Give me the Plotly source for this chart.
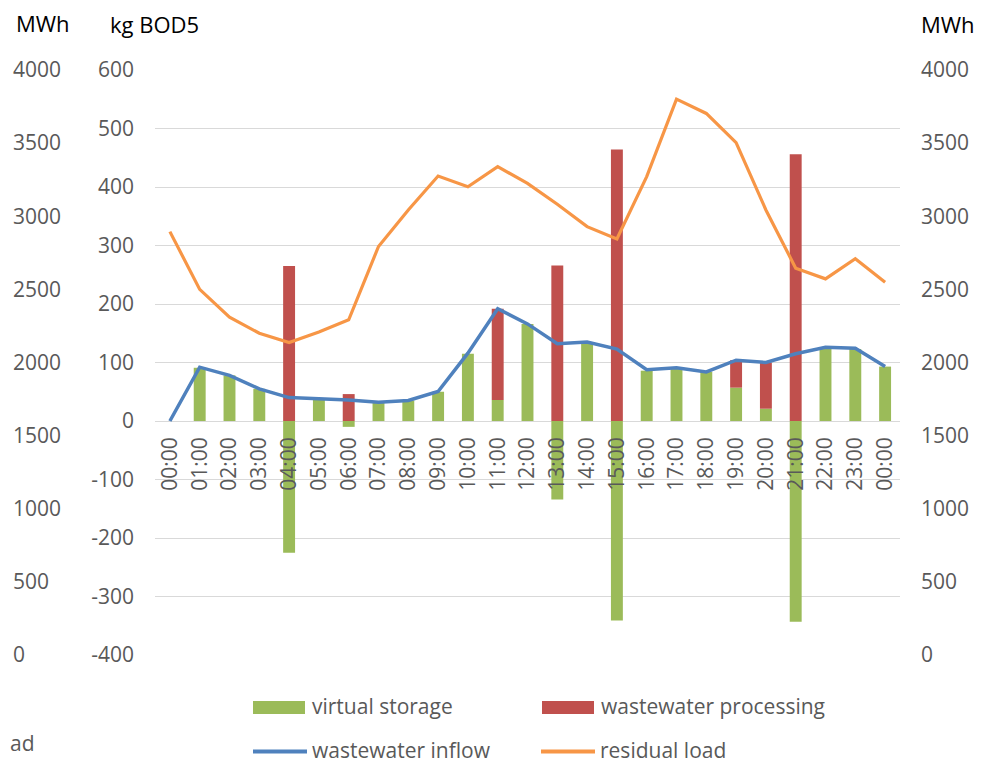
import plotly.graph_objects as go

hours = ["00:00", "01:00", "02:00", "03:00", "04:00", "05:00", "06:00", "07:00",
         "08:00", "09:00", "10:00", "11:00", "12:00", "13:00", "14:00", "15:00",
         "16:00", "17:00", "18:00", "19:00", "20:00", "21:00", "22:00", "23:00", "00:00"]
virtual_storage = [0, 91, 78, 55, -225, 36, -10, 32, 35, 50, 115, 36, 166, -134,
                   135, -341, 86, 89, 84, 57, 21, -343, 125, 123, 93]
wastewater_processing = [0, 0, 0, 0, 265, 0, 46, 0, 0, 0, 0, 156, 0, 266,
                         0, 464, 0, 0, 0, 47, 79, 456, 0, 0, 0]
wastewater_inflow = [0, 92, 78, 55, 40, 37.5, 36, 32, 35, 50.5, 116, 192, 166, 132,
                     135, 123, 87.5, 91, 84, 104, 100, 115, 126, 124.5, 93]
residual_load = [2895, 2500, 2310, 2200, 2137, 2208, 2292, 2793, 3043, 3275, 3202,
                 3339, 3225, 3082, 2929, 2845, 3271, 3801, 3703, 3503, 3043, 2645,
                 2572, 2710, 2549]
kg_ticks = [-400, -300, -200, -100, 0, 100, 200, 300, 400, 500, 600]
kg_labels = ["-400", "-300", "-200", "-100", "0", "100", "200", "300", "400", "500", "600"]
mwh_ticks = [0, 500, 1000, 1500, 2000, 2500, 3000, 3500, 4000]
mwh_labels = ["0", "500", "1000", "1500", "2000", "2500", "3000", "3500", "4000"]

series_names = ["virtual storage", "wastewater processing", "wastewater inflow", "residual load"]
series_colors = ["#9BBB59", "#C0504D", "#4F81BD", "#F79646"]

x_idx = list(range(len(hours)))
FONT = "Open Sans"
TICK_COLOR = "#595959"
GRID = "#d9d9d9"

fig = go.Figure()
fig.add_trace(go.Bar(x=x_idx, y=virtual_storage, name=series_names[0],
                     marker=dict(color=series_colors[0], line=dict(width=0)),
                     showlegend=False))
fig.add_trace(go.Bar(x=x_idx, y=wastewater_processing, name=series_names[1],
                     marker=dict(color=series_colors[1], line=dict(width=0)),
                     showlegend=False))
fig.add_trace(go.Scatter(x=x_idx, y=wastewater_inflow, name=series_names[2],
                         mode="lines", line=dict(color=series_colors[2], width=3.5),
                         showlegend=False))
fig.add_trace(go.Scatter(x=x_idx, y=residual_load, name=series_names[3],
                         mode="lines", line=dict(color=series_colors[3], width=3.2),
                         yaxis="y2", showlegend=False))
# invisible trace so that the far-left MWh axis is drawn
fig.add_trace(go.Scatter(x=x_idx, y=residual_load, mode="lines", yaxis="y3",
                         line=dict(width=0, color="rgba(0,0,0,0)"),
                         showlegend=False, hoverinfo="skip"))

W, H = 992, 763
OFF = 8  # page offset of the figure (body margin)
T = 62
PH = 585.5
B = H - T - PH


def px_x(p):
    return (p - OFF) / W


def px_y(p):
    return (T + PH - (p - OFF)) / PH


tickfont = dict(family=FONT, size=21, color=TICK_COLOR)

fig.update_layout(
    width=W, height=H,
    margin=dict(l=0, r=0, t=T, b=B, autoexpand=False),
    plot_bgcolor="white", paper_bgcolor="white",
    font=dict(family=FONT, size=21, color=TICK_COLOR),
    barmode="relative", bargap=0.6,
    showlegend=False,
    xaxis=dict(
        domain=[px_x(155), px_x(900)],
        range=[-0.5, 24.5],
        tickmode="array", tickvals=x_idx, ticktext=hours,
        tickangle=-90, anchor="free", position=0.4,
        showgrid=False, zeroline=False, showline=False, ticks="",
        ticklabelstandoff=11, tickfont=tickfont,
    ),
    yaxis=dict(
        range=[-400, 600], tickmode="array", tickvals=kg_ticks, ticktext=kg_labels,
        showgrid=True, gridcolor=GRID, gridwidth=1.3,
        zeroline=True, zerolinecolor=GRID, zerolinewidth=1.3,
        showline=False, ticks="", ticklabelstandoff=20, tickfont=tickfont,
    ),
    yaxis2=dict(
        range=[0, 4000], tickmode="array", tickvals=mwh_ticks, ticktext=mwh_labels,
        overlaying="y", side="right", anchor="x",
        showgrid=False, zeroline=False, showline=False, ticks="",
        ticklabelstandoff=20, tickfont=tickfont,
    ),
    yaxis3=dict(
        range=[0, 4000], tickmode="array", tickvals=mwh_ticks, ticktext=mwh_labels,
        overlaying="y", side="right", anchor="free", position=0.0,
        showgrid=False, zeroline=False, showline=False, ticks="",
        ticklabelstandoff=4, tickfont=tickfont,
    ),
)

annotations = [
    dict(text="MWh", x=px_x(14), y=px_y(23)),
    dict(text="kg BOD5", x=px_x(108), y=px_y(24)),
    dict(text="MWh", x=px_x(919), y=px_y(24)),
]
for a in annotations:
    a.update(xref="paper", yref="paper", xanchor="left", yanchor="middle",
             showarrow=False, font=dict(family=FONT, size=22, color="#000000"))
annotations.append(dict(text="ad", x=px_x(8), y=px_y(744), xref="paper", yref="paper",
                        xanchor="left", yanchor="middle", showarrow=False,
                        font=dict(family=FONT, size=21, color=TICK_COLOR)))

# legend (2 x 2 layout as in the reference)
legend_slots = [(253, 708, "rect"), (542, 708, "rect"), (253, 752, "line"), (541, 752, "line")]
shapes = []
for (lx, ly, kind), name, col in zip(legend_slots, series_names, series_colors):
    if kind == "rect":
        shapes.append(dict(type="rect", xref="paper", yref="paper",
                           x0=px_x(lx), x1=px_x(lx + 52),
                           y0=px_y(ly - 6.5), y1=px_y(ly + 6.5),
                           fillcolor=col, line=dict(width=0)))
    else:
        shapes.append(dict(type="line", xref="paper", yref="paper",
                           x0=px_x(lx), x1=px_x(lx + 54),
                           y0=px_y(ly), y1=px_y(ly),
                           line=dict(color=col, width=4)))
    annotations.append(dict(text=name, x=px_x(lx + 57), y=px_y(ly - 1),
                            xref="paper", yref="paper", xanchor="left",
                            yanchor="middle", showarrow=False,
                            font=dict(family=FONT, size=21, color=TICK_COLOR)))

fig.update_layout(annotations=annotations, shapes=shapes)

fig.write_html("out.html")
